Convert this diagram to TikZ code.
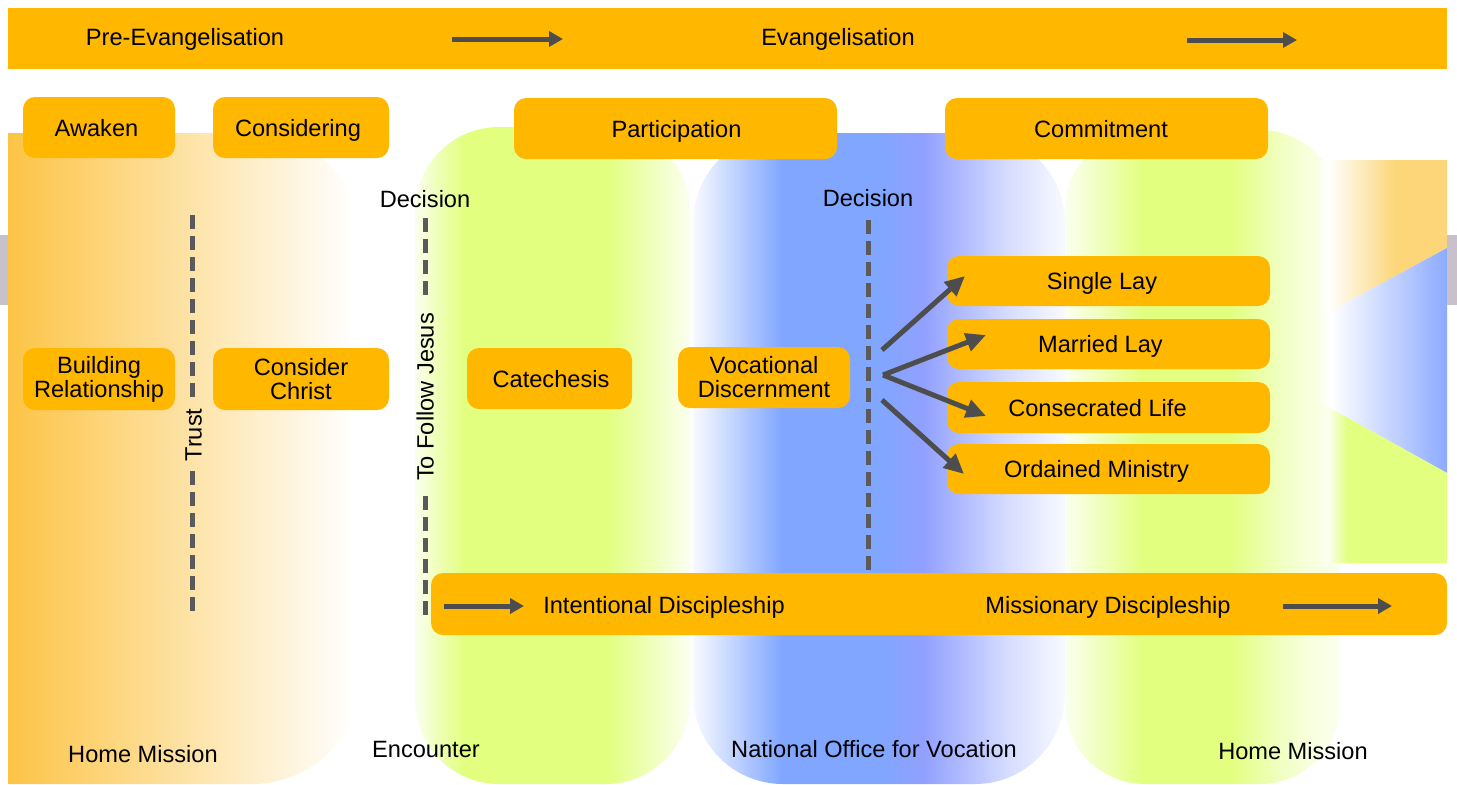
\documentclass[tikz,border=0pt]{standalone}
\usepackage{fontspec}
\setmainfont{Liberation Sans}
\usetikzlibrary{arrows.meta}
\definecolor{boxor}{RGB}{255,183,0}
\definecolor{panor}{RGB}{252,196,70}
\definecolor{pangr}{RGB}{226,255,128}
\definecolor{panblA}{RGB}{128,166,255}
\definecolor{panblB}{RGB}{145,160,255}
\definecolor{panblC}{RGB}{212,219,255}
\definecolor{panbledge}{RGB}{248,250,255}
\definecolor{pangredge}{RGB}{251,255,240}
\definecolor{wedor}{RGB}{252,214,120}
\definecolor{wedbl}{RGB}{140,170,255}
\definecolor{arrgr}{RGB}{77,77,77}
\definecolor{dashgr}{RGB}{90,90,90}
\definecolor{edgegr}{RGB}{200,192,202}
\pgfdeclarehorizontalshading{orpanel}{100bp}{color(0bp)=(panor); color(36.7bp)=(panor); color(74bp)=(white); color(100bp)=(white)}
\pgfdeclarehorizontalshading{grpanelA}{100bp}{color(0bp)=(pangredge); color(25bp)=(pangredge); color(29bp)=(pangr!55); color(34bp)=(pangr); color(60bp)=(pangr); color(75bp)=(pangredge); color(100bp)=(pangredge)}
\pgfdeclarehorizontalshading{blpanel}{100bp}{color(0bp)=(panbledge); color(25bp)=(panbledge); color(30bp)=(panblA!45); color(37bp)=(panblA); color(50bp)=(panblA); color(56bp)=(panblB); color(67bp)=(panblC); color(75bp)=(panbledge); color(100bp)=(panbledge)}
\pgfdeclarehorizontalshading{grpanelB}{100bp}{color(0bp)=(pangredge); color(25bp)=(pangredge); color(31bp)=(pangr!50); color(39bp)=(pangr); color(55bp)=(pangr); color(64bp)=(pangr!50); color(69bp)=(pangr!28); color(75bp)=(pangredge); color(100bp)=(pangredge)}
\pgfdeclarehorizontalshading{wedgeor}{100bp}{color(0bp)=(pangr!28); color(25bp)=(pangr!28); color(31bp)=(white); color(56bp)=(wedor); color(100bp)=(wedor)}
\pgfdeclarehorizontalshading{wedgebl}{100bp}{color(0bp)=(pangr!28); color(25bp)=(pangr!28); color(32bp)=(white); color(75bp)=(wedbl); color(100bp)=(wedbl)}
\pgfdeclarehorizontalshading{wedgegr}{100bp}{color(0bp)=(pangr!28); color(25bp)=(pangr!28); color(31bp)=(pangr!12); color(38bp)=(pangr); color(100bp)=(pangr)}
\newcommand\dlab{\fontsize{11.8}{12}\selectfont}
\begin{document}
\begin{tikzpicture}[x=0.5pt,y=-0.5pt,
  box/.style={fill=boxor, rounded corners=6pt, inner sep=0pt, align=center, font=\dlab},
  sbox/.style={fill=boxor, rounded corners=6pt, inner sep=0pt, font=\dlab, text height=8.5pt, text depth=0pt},
  txt/.style={inner sep=0pt, font=\dlab, text height=8.5pt, text depth=0pt},
  dline/.style={draw=dashgr, line width=2.5pt, dash pattern=on 7pt off 3.5pt},
  barrow/.style={draw=arrgr, line width=2.5pt, -{Triangle[length=7pt,width=7.5pt]}},
  varrow/.style={draw=arrgr, line width=2.5pt, -{Triangle[length=10pt,width=9pt]}}]
\useasboundingbox (0,0) rectangle (1457,784);
% background panels
\begin{scope}
\clip (8,0) rectangle (1457,784);
\path[shading=orpanel, rounded corners=55pt] (-100,133) rectangle (362,784);
\end{scope}
\path[shading=grpanelA, rounded corners=42pt] (415,127) rectangle (690,784);
\path[shading=blpanel, rounded corners=45pt] (693,133) rectangle (1065,784);
\path[shading=grpanelB, rounded corners=40pt] (1065,130) rectangle (1340,784);
\path[shading=wedgeor] (1312,160) -- (1447,160) -- (1447,248) -- (1312,321) -- cycle;
\path[shading=wedgebl] (1312,321) -- (1447,248) -- (1447,473) -- (1312,398) -- cycle;
\path[shading=wedgegr] (1312,398) -- (1447,473) -- (1447,563) -- (1312,563) -- cycle;
\fill[edgegr] (0,235) rectangle (8,305);
\fill[edgegr] (1447,235) rectangle (1457,305);
% bars
\node[fill=boxor, minimum width=719.5pt, minimum height=30.5pt, inner sep=0pt] (topbar) at (727.5,38.5) {};
\node[txt] (preevang) at (185,37) {Pre-Evangelisation};
\node[txt] (evang) at (838,37) {Evangelisation};
\node[fill=boxor, rounded corners=6pt, minimum width=508pt, minimum height=31pt, inner sep=0pt] (botbar) at (939,604) {};
\node[txt] (intent) at (664,605) {Intentional Discipleship};
\node[txt] (mission) at (1108,605) {Missionary Discipleship};
% boxes
\node[sbox, minimum width=76pt, minimum height=30.5pt] (awaken) at (99,127.5) {\kern-2.5pt Awaken};
\node[sbox, minimum width=88pt, minimum height=30.5pt] (considering) at (301,127.5) {\kern-3pt Considering};
\node[sbox, minimum width=161.5pt, minimum height=30.5pt] (particip) at (675.5,128.5) {\kern1pt Participation};
\node[sbox, minimum width=161.5pt, minimum height=30.5pt] (commit) at (1106.5,128.5) {\kern-5.5pt Commitment};
\node[box, minimum width=76pt, minimum height=31pt] (building) at (99,379) {Building\\Relationship};
\node[box, minimum width=88pt, minimum height=31pt] (christ) at (301,379) {Consider\\Christ};
\node[sbox, minimum width=82.5pt, minimum height=30.5pt] (catech) at (549.5,378.5) {\kern1.5pt Catechesis};
\node[box, minimum width=86pt, minimum height=30.5pt] (vocat) at (764,377.5) {Vocational\\Discernment};
\node[sbox, minimum width=161.5pt, minimum height=25pt] (single) at (1108.5,281) {\kern-6.5pt Single Lay};
\node[sbox, minimum width=161.5pt, minimum height=25pt] (married) at (1108.5,344) {\kern-8pt Married Lay};
\node[sbox, minimum width=161.5pt, minimum height=25.5pt] (consec) at (1108.5,407.5) {\kern-11pt Consecrated Life};
\node[sbox, minimum width=161.5pt, minimum height=25pt] (ordained) at (1108.5,469) {\kern-12pt Ordained Ministry};
% labels
\node[txt] (decL) at (425,199) {Decision};
\node[txt] (decR) at (868,198) {Decision};
\node[txt, rotate=90] (trust) at (193,435) {Trust};
\node[txt, rotate=90] (follow) at (425,397) {To Follow Jesus};
\node[txt] (hm1) at (143,754) {Home Mission};
\node[txt] (enc) at (426,749) {Encounter};
\node[txt] (nov) at (874,749) {National Office for Vocation};
\node[txt] (hm2) at (1293,751) {Home Mission};
% dashed lines
\coordinate (tA) at (192,215); \coordinate (tB) at (192,400);
\coordinate (tC) at (192,471); \coordinate (tD) at (192,618);
\coordinate (jA) at (425,218); \coordinate (jB) at (425,298);
\coordinate (jC) at (425,496); \coordinate (jD) at (425,618);
\coordinate (dA) at (868,220); \coordinate (dB) at (868,572);
\draw[dline] (tA) -- (tB);
\draw[dline] (tC) -- (tD);
\draw[dline] (jA) -- (jB);
\draw[dline, draw=black!65] (jC) -- (jD);
\draw[dline] (dA) -- (dB);
% bar arrows
\coordinate (a1s) at (452,39); \coordinate (a1e) at (563,39);
\coordinate (a2s) at (1187,40); \coordinate (a2e) at (1297,40);
\coordinate (a3s) at (444,606); \coordinate (a3e) at (524,606);
\coordinate (a4s) at (1283,606); \coordinate (a4e) at (1392,606);
\draw[barrow] (a1s) -- (a1e);
\draw[barrow] (a2s) -- (a2e);
\draw[barrow] (a3s) -- (a3e);
\draw[barrow] (a4s) -- (a4e);
% vocation arrows
\coordinate (v1) at (882,350);
\coordinate (v2) at (883,375);
\coordinate (v3) at (882,400);
\coordinate (e1) at (965,276);
\coordinate (e2) at (986,335);
\coordinate (e3) at (986,416);
\coordinate (e4) at (964,474);
\draw[varrow] (v1) -- (e1);
\draw[varrow] (v2) -- (e2);
\draw[varrow] (v2) -- (e3);
\draw[varrow] (v3) -- (e4);
\end{tikzpicture}
\end{document}
